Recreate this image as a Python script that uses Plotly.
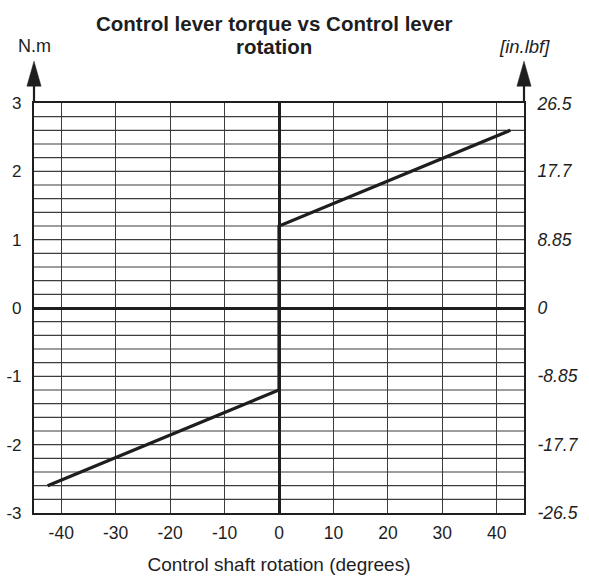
import plotly.graph_objects as go

# Control lever characteristic: shaft rotation (deg) vs torque (N.m)
rotation_deg = [-42.5, 0, 0, 42.5]
torque_nm = [-2.6, -1.2, 1.2, 2.6]

# Left axis ticks (N.m) and right axis labels (in.lbf)
nm_ticks = [-3, -2, -1, 0, 1, 2, 3]
nm_labels = ["-3", "-2", "-1", "0", "1", "2", "3"]
inlbf_ticks = [-26.5, -17.7, -8.85, 0, 8.85, 17.7, 26.5]
inlbf_labels = ["-26.5", "-17.7", "-8.85", "0", "8.85", "17.7", "26.5"]
x_ticks = [-40, -30, -20, -10, 0, 10, 20, 30, 40]
x_labels = ["-40", "-30", "-20", "-10", "0", "10", "20", "30", "40"]

NM_TO_INLBF = 8.85
FONT = "Liberation Sans, Arial, sans-serif"
INK = "#1e1e1e"
GRID = "#3c3c3c"

fig = go.Figure()
fig.add_trace(go.Scatter(
    x=rotation_deg, y=torque_nm, mode="lines",
    line=dict(color=INK, width=3.2), hoverinfo="skip", showlegend=False,
))
# invisible trace so the secondary axis renders
fig.add_trace(go.Scatter(
    x=[0], y=[0], yaxis="y2", mode="markers",
    marker=dict(opacity=0), hoverinfo="skip", showlegend=False,
))

# Arrow heads on the top of both vertical axes
shapes = []
for xp in (0, 1):
    shapes.append(dict(type="line", xref="paper", yref="paper",
                       x0=xp, x1=xp, y0=1, y1=1.045,
                       line=dict(color=INK, width=2.2)))
    shapes.append(dict(type="path", xref="paper", yref="paper",
                       path=f"M {xp-0.0145},1.041 L {xp+0.0145},1.041 L {xp},1.102 Z",
                       fillcolor=INK, line=dict(color=INK, width=0.5)))

# Horizontal grid every 0.2 N.m
for i in range(31):
    gv = round(-3 + 0.2 * i, 1)
    if gv in (-3, 0, 3):
        continue
    shapes.append(dict(type="line", xref="paper", yref="y", x0=0, x1=1,
                       y0=gv, y1=gv, layer="below",
                       line=dict(color=GRID, width=1.2)))

fig.update_layout(
    width=589, height=578,
    margin=dict(l=34, r=65, t=103, b=65),
    paper_bgcolor="white", plot_bgcolor="white",
    font=dict(family=FONT, color=INK, size=17),
    xaxis=dict(
        range=[-45, 45], tickvals=x_ticks, ticktext=x_labels,
        showgrid=True, gridcolor=GRID, gridwidth=1.2,
        zeroline=True, zerolinecolor=INK, zerolinewidth=2.6,
        showline=True, mirror=True, linecolor=INK, linewidth=2.2,
        ticks="outside", ticklen=3, tickcolor="rgba(0,0,0,0)",
        tickfont=dict(size=17.5),
        title=dict(text="Control shaft rotation (degrees)",
                   font=dict(size=19), standoff=16),
        automargin=False, fixedrange=True,
    ),
    yaxis=dict(
        range=[-3, 3], tickvals=nm_ticks, ticktext=nm_labels,
        showgrid=False,
        zeroline=True, zerolinecolor=INK, zerolinewidth=2.6,
        showline=True, mirror=True, linecolor=INK, linewidth=2.2,
        ticks="outside", ticklen=7, tickcolor="rgba(0,0,0,0)",
        tickfont=dict(size=17),
        automargin=False, fixedrange=True,
    ),
    yaxis2=dict(
        overlaying="y", side="right",
        range=[-3 * NM_TO_INLBF, 3 * NM_TO_INLBF],
        tickvals=inlbf_ticks, ticktext=inlbf_labels,
        showgrid=False, zeroline=False, showline=False,
        ticks="outside", ticklen=9, tickcolor="rgba(0,0,0,0)",
        tickfont=dict(size=17.5, style="italic"),
        automargin=False, fixedrange=True,
    ),
    shapes=shapes,
)

# Two-line bold title
fig.add_annotation(text="<b>Control lever torque vs Control lever</b>",
                   xref="paper", yref="paper", x=0.49, y=1.195,
                   showarrow=False, font=dict(size=20.5),
                   xanchor="center", yanchor="middle")
fig.add_annotation(text="<b>rotation</b>",
                   xref="paper", yref="paper", x=0.49, y=1.139,
                   showarrow=False, font=dict(size=20.5),
                   xanchor="center", yanchor="middle")

# Unit labels above the arrows
fig.add_annotation(text="N.m", xref="paper", yref="paper", x=0, y=1.139,
                   showarrow=False, font=dict(size=18), xanchor="center",
                   yanchor="middle")
fig.add_annotation(text="<i>[in.lbf]</i>", xref="paper", yref="paper", x=1,
                   y=1.137, showarrow=False, font=dict(size=18.5),
                   xanchor="center", yanchor="middle")

fig.write_html("out.html")
